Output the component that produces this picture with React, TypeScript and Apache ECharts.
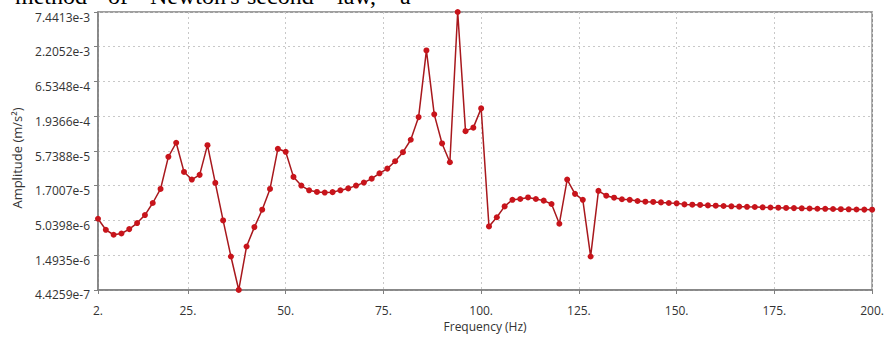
import React, { useEffect, useRef } from 'react';
import * as echarts from 'echarts';

const frequencies = [
  2, 4, 6, 8, 10, 12, 14, 16, 18, 20,
  22, 24, 26, 28, 30, 32, 34, 36, 38, 40,
  42, 44, 46, 48, 50, 52, 54, 56, 58, 60,
  62, 64, 66, 68, 70, 72, 74, 76, 78, 80,
  82, 84, 86, 88, 90, 92, 94, 96, 98, 100,
  102, 104, 106, 108, 110, 112, 114, 116, 118, 120,
  122, 124, 126, 128, 130, 132, 134, 136, 138, 140,
  142, 144, 146, 148, 150, 152, 154, 156, 158, 160,
  162, 164, 166, 168, 170, 172, 174, 176, 178, 180,
  182, 184, 186, 188, 190, 192, 194, 196, 198, 200,
];

const amplitudes = [
  5.36e-6, 3.64e-6, 3.06e-6, 3.2e-6, 3.73e-6, 4.61e-6, 6.1e-6, 9.3e-6, 1.52e-5, 4.68e-5,
  7.66e-5, 2.76e-5, 2.11e-5, 2.49e-5, 7.04e-5, 1.88e-5, 5.05e-6, 1.43e-6, 4.43e-7, 2.03e-6,
  4.0e-6, 7.35e-6, 1.52e-5, 6.2e-5, 5.58e-5, 2.32e-5, 1.71e-5, 1.45e-5, 1.37e-5, 1.34e-5,
  1.36e-5, 1.45e-5, 1.55e-5, 1.71e-5, 1.9e-5, 2.18e-5, 2.63e-5, 3.1e-5, 4.01e-5, 5.5e-5,
  8.51e-5, 1.88e-4, 1.94e-3, 2.07e-4, 7.47e-5, 3.87e-5, 7.44e-3, 1.15e-4, 1.3e-4, 2.55e-4,
  4.09e-6, 5.65e-6, 8.26e-6, 1.04e-5, 1.07e-5, 1.13e-5, 1.07e-5, 1.01e-5, 8.98e-6, 4.5e-6,
  2.11e-5, 1.28e-5, 1.04e-5, 1.43e-6, 1.42e-5, 1.2e-5, 1.12e-5, 1.06e-5, 1.04e-5, 9.98e-6,
  9.74e-6, 9.64e-6, 9.5e-6, 9.3e-6, 9.18e-6, 8.86e-6, 8.77e-6, 8.68e-6, 8.55e-6, 8.46e-6,
  8.37e-6, 8.28e-6, 8.19e-6, 8.13e-6, 8.08e-6, 8.0e-6, 7.94e-6, 7.89e-6, 7.83e-6, 7.78e-6,
  7.72e-6, 7.67e-6, 7.61e-6, 7.59e-6, 7.54e-6, 7.48e-6, 7.46e-6, 7.4e-6, 7.38e-6, 7.35e-6,
];

const yTickValues = [4.4259e-7, 1.4935e-6, 5.0398e-6, 1.7007e-5, 5.7388e-5, 1.9366e-4, 6.5348e-4, 2.2052e-3, 7.4413e-3];
const yTickLabels = ['4.4259e-7', '1.4935e-6', '5.0398e-6', '1.7007e-5', '5.7388e-5', '1.9366e-4', '6.5348e-4', '2.2052e-3', '7.4413e-3'];
const xTickValues = [2, 25, 50, 75, 100, 125, 150, 175, 200];
const xTickLabels = ['2.', '25.', '50.', '75.', '100.', '125.', '150.', '175.', '200.'];
const headerWords = ['method', 'of', "Newton's", 'second', 'law,', 'a'];

const xAxisName = 'Frequency (Hz)';
const yAxisName = 'Amplitude (m/s²)';

export default function App() {
  const ref = useRef<HTMLDivElement>(null);

  useEffect(() => {
    if (!ref.current) return;
    const chart = echarts.init(ref.current, undefined, { renderer: 'svg' });
    const labelFont = '"Open Sans", "Noto Sans", sans-serif';
    const axisGray = '#808080';
    const headerX = [15, 108, 150, 247, 337, 400];

    const headerGraphics = headerWords.map((w, i) => ({
      type: 'text',
      x: headerX[i],
      y: -4,
      silent: true,
      style: {
        text: w,
        font: '24px "Liberation Serif", serif',
        fill: '#000',
        verticalAlign: 'middle',
        align: 'left',
      },
    }));

    const option: any = {
      animation: false,
      backgroundColor: '#ffffff',
      grid: {
        left: 98,
        right: 14,
        top: 12,
        bottom: 50,
        show: true,
        borderColor: axisGray,
        borderWidth: 1.5,
        backgroundColor: 'transparent',
      },
      graphic: [
        ...headerGraphics,
        {
          type: 'text',
          x: 17,
          y: 158,
          rotation: Math.PI / 2,
          silent: true,
          style: {
            text: yAxisName,
            font: '13px "Open Sans", "Noto Sans", sans-serif',
            fill: '#333',
            align: 'center',
            verticalAlign: 'middle',
          },
        },
      ],
      xAxis: {
        type: 'value',
        min: 2,
        max: 200,
        name: xAxisName,
        nameLocation: 'middle',
        nameGap: 26,
        nameTextStyle: { fontFamily: labelFont, fontSize: 12, color: '#333' },
        axisLine: { show: true, onZero: false, lineStyle: { color: axisGray, width: 1.5 } },
        axisTick: { show: true, length: 4, customValues: xTickValues, lineStyle: { color: axisGray } },
        axisLabel: {
          customValues: xTickValues,
          margin: 14,
          fontFamily: labelFont,
          fontSize: 12,
          color: '#333',
          formatter: (v: number) => {
            const i = xTickValues.indexOf(v);
            return i >= 0 ? xTickLabels[i] : '';
          },
        },
        splitLine: { show: true, lineStyle: { color: '#c8c8c8', type: [2, 3], width: 1 } },
      },
      yAxis: {
        type: 'log',
        logBase: 10,
        min: 4.4258e-7,
        max: 7.4414e-3,
        axisLine: { show: true, lineStyle: { color: axisGray, width: 1.5 } },
        axisTick: { show: true, length: 4, customValues: yTickValues, lineStyle: { color: axisGray } },
        axisLabel: {
          customValues: yTickValues,
          margin: 8,
          fontFamily: labelFont,
          fontSize: 12,
          color: '#333',
          verticalAlign: 'top',
          lineHeight: 10,
          formatter: (v: number) => {
            const i = yTickValues.findIndex((t) => Math.abs(t - v) / t < 1e-3);
            return i >= 0 ? yTickLabels[i] : '';
          },
        },
        splitLine: { show: true, lineStyle: { color: '#c8c8c8', type: [2, 3], width: 1 } },
      },
      series: [
        {
          type: 'line',
          data: frequencies.map((f, i) => [f, amplitudes[i]]),
          symbol: 'circle',
          symbolSize: 6,
          clip: false,
          lineStyle: { color: '#a8181d', width: 1.5 },
          itemStyle: { color: '#c8141b' },
        },
      ],
    };
    chart.setOption(option);
    return () => chart.dispose();
  }, []);

  return (
    <div
      ref={ref}
      style={{ position: 'absolute', left: 0, top: 0, width: 887, height: 340 }}
    />
  );
}
